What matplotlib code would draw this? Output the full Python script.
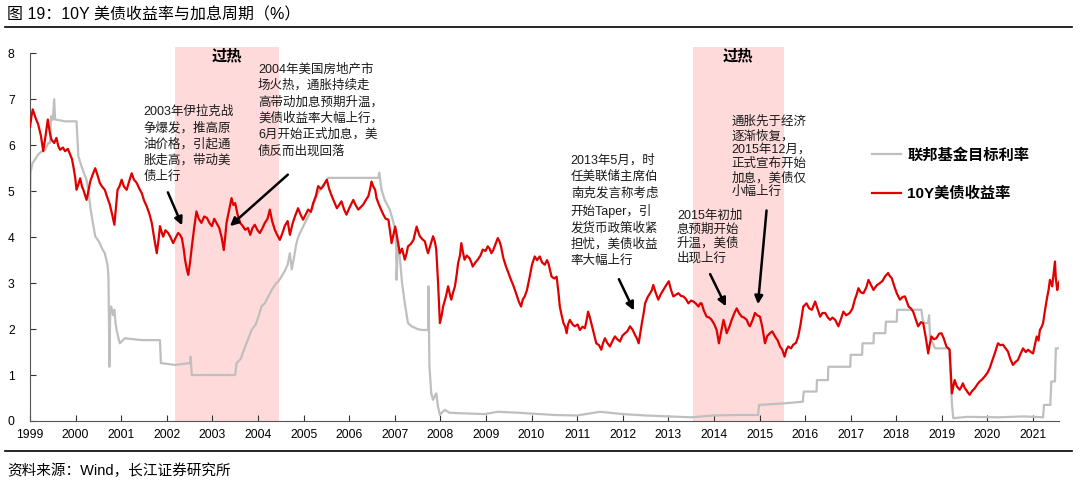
import matplotlib
matplotlib.use("Agg")
import matplotlib.pyplot as plt
from matplotlib.lines import Line2D

plt.rcParams['font.family'] = ['Liberation Sans', 'Noto Sans CJK SC', 'DejaVu Sans']

# 10Y yield (red)
red_x = [1999.00, 1999.03, 1999.06, 1999.12, 1999.18, 1999.24, 1999.29, 1999.34, 1999.39, 1999.43,
         1999.47, 1999.53, 1999.58, 1999.62, 1999.66, 1999.72, 1999.77, 1999.83, 1999.88, 1999.92,
         1999.95, 1999.99, 2000.02, 2000.06, 2000.10, 2000.14, 2000.17, 2000.21, 2000.24, 2000.28,
         2000.32, 2000.37, 2000.43, 2000.48, 2000.53, 2000.58, 2000.64, 2000.70, 2000.75, 2000.80,
         2000.85, 2000.88, 2000.92, 2000.96, 2001.01, 2001.06, 2001.12, 2001.17, 2001.23, 2001.28,
         2001.34, 2001.40, 2001.45, 2001.50, 2001.56, 2001.62, 2001.67, 2001.72, 2001.78, 2001.82,
         2001.85, 2001.89, 2001.92, 2001.97, 2002.03, 2002.08, 2002.14, 2002.20, 2002.25, 2002.29,
         2002.33, 2002.37, 2002.40, 2002.44, 2002.47, 2002.51, 2002.55, 2002.60, 2002.65, 2002.70,
         2002.76, 2002.82, 2002.88, 2002.94, 2002.99, 2003.04, 2003.09, 2003.15, 2003.20, 2003.25,
         2003.28, 2003.31, 2003.37, 2003.42, 2003.46, 2003.50, 2003.55, 2003.61, 2003.66, 2003.72,
         2003.78, 2003.83, 2003.88, 2003.93, 2003.99, 2004.04, 2004.10, 2004.15, 2004.21, 2004.26,
         2004.31, 2004.37, 2004.42, 2004.48, 2004.54, 2004.59, 2004.65, 2004.70, 2004.76, 2004.81,
         2004.88, 2004.93, 2004.99, 2005.05, 2005.10, 2005.16, 2005.21, 2005.27, 2005.32, 2005.38,
         2005.43, 2005.51, 2005.56, 2005.62, 2005.68, 2005.73, 2005.78, 2005.83, 2005.89, 2005.94,
         2006.01, 2006.09, 2006.14, 2006.20, 2006.25, 2006.31, 2006.36, 2006.42, 2006.46, 2006.49,
         2006.53, 2006.57, 2006.60, 2006.64, 2006.70, 2006.75, 2006.80, 2006.86, 2006.90, 2006.93,
         2006.97, 2007.01, 2007.06, 2007.11, 2007.16, 2007.22, 2007.26, 2007.29, 2007.35, 2007.41,
         2007.45, 2007.48, 2007.52, 2007.55, 2007.61, 2007.66, 2007.70, 2007.73, 2007.79, 2007.84,
         2007.88, 2007.91, 2007.95, 2007.99, 2008.03, 2008.06, 2008.12, 2008.17, 2008.21, 2008.24,
         2008.28, 2008.32, 2008.36, 2008.39, 2008.43, 2008.46, 2008.50, 2008.53, 2008.58, 2008.64,
         2008.68, 2008.71, 2008.77, 2008.82, 2008.88, 2008.93, 2008.99, 2009.04, 2009.08, 2009.12,
         2009.16, 2009.19, 2009.23, 2009.26, 2009.30, 2009.33, 2009.38, 2009.44, 2009.50, 2009.55,
         2009.60, 2009.66, 2009.72, 2009.77, 2009.81, 2009.85, 2009.90, 2009.96, 2010.01, 2010.07,
         2010.12, 2010.18, 2010.23, 2010.29, 2010.34, 2010.37, 2010.44, 2010.50, 2010.55, 2010.59,
         2010.62, 2010.66, 2010.70, 2010.74, 2010.77, 2010.80, 2010.84, 2010.90, 2010.95, 2011.01,
         2011.06, 2011.12, 2011.17, 2011.21, 2011.24, 2011.28, 2011.31, 2011.37, 2011.42, 2011.48,
         2011.53, 2011.57, 2011.61, 2011.66, 2011.72, 2011.78, 2011.83, 2011.88, 2011.94, 2011.99,
         2012.05, 2012.10, 2012.16, 2012.22, 2012.27, 2012.31, 2012.35, 2012.39, 2012.42, 2012.46,
         2012.49, 2012.55, 2012.60, 2012.64, 2012.67, 2012.72, 2012.78, 2012.83, 2012.89, 2012.95,
         2013.01, 2013.06, 2013.11, 2013.17, 2013.22, 2013.28, 2013.33, 2013.39, 2013.44, 2013.50,
         2013.55, 2013.61, 2013.66, 2013.70, 2013.73, 2013.78, 2013.84, 2013.90, 2013.95, 2014.01,
         2014.06, 2014.11, 2014.16, 2014.21, 2014.25, 2014.28, 2014.34, 2014.39, 2014.45, 2014.50,
         2014.55, 2014.61, 2014.66, 2014.72, 2014.76, 2014.79, 2014.85, 2014.90, 2014.95, 2015.01,
         2015.06, 2015.12, 2015.17, 2015.23, 2015.28, 2015.34, 2015.40, 2015.45, 2015.50, 2015.55,
         2015.59, 2015.63, 2015.69, 2015.74, 2015.80, 2015.85, 2015.90, 2015.96, 2016.03, 2016.09,
         2016.15, 2016.22, 2016.27, 2016.33, 2016.38, 2016.44, 2016.50, 2016.55, 2016.60, 2016.66,
         2016.73, 2016.78, 2016.84, 2016.90, 2016.98, 2017.04, 2017.09, 2017.13, 2017.17, 2017.22,
         2017.28, 2017.34, 2017.39, 2017.45, 2017.50, 2017.57, 2017.64, 2017.70, 2017.75, 2017.82,
         2017.86, 2017.90, 2017.95, 2018.01, 2018.05, 2018.08, 2018.14, 2018.19, 2018.23, 2018.27,
         2018.32, 2018.37, 2018.43, 2018.48, 2018.54, 2018.59, 2018.65, 2018.70, 2018.73, 2018.77,
         2018.82, 2018.88, 2018.94, 2018.99, 2019.04, 2019.10, 2019.17, 2019.20, 2019.22, 2019.25,
         2019.28, 2019.33, 2019.39, 2019.43, 2019.46, 2019.50, 2019.53, 2019.57, 2019.61, 2019.66,
         2019.72, 2019.78, 2019.83, 2019.88, 2019.94, 2020.00, 2020.05, 2020.10, 2020.16, 2020.20,
         2020.23, 2020.28, 2020.34, 2020.40, 2020.45, 2020.50, 2020.56, 2020.61, 2020.67, 2020.72,
         2020.78, 2020.84, 2020.89, 2020.95, 2021.00, 2021.04, 2021.08, 2021.12, 2021.15, 2021.19,
         2021.22, 2021.26, 2021.30, 2021.34, 2021.37, 2021.40, 2021.42, 2021.45, 2021.48, 2021.50,
         2021.53, 2021.56, 2021.58]
red_y = [6.40, 6.62, 6.78, 6.60, 6.45, 6.20, 5.87, 6.20, 6.56, 6.30,
         6.12, 6.05, 6.16, 5.98, 5.90, 5.95, 5.87, 5.92, 5.80, 5.70,
         5.54, 5.30, 5.03, 5.15, 5.28, 5.10, 5.03, 4.90, 4.81, 5.00,
         5.21, 5.35, 5.50, 5.35, 5.18, 5.10, 5.03, 4.85, 4.71, 4.50,
         4.27, 4.60, 5.03, 5.10, 5.25, 5.10, 5.03, 5.20, 5.39, 5.25,
         5.18, 5.05, 4.96, 4.80, 4.67, 4.50, 4.31, 4.00, 3.65, 3.95,
         4.24, 4.10, 4.01, 4.15, 4.09, 4.00, 3.87, 4.00, 4.09, 4.05,
         3.98, 3.75, 3.51, 3.30, 3.18, 3.45, 3.80, 4.20, 4.56, 4.40,
         4.31, 4.45, 4.42, 4.30, 4.24, 4.40, 4.31, 4.20, 4.01, 3.72,
         4.00, 4.31, 4.60, 4.85, 4.70, 4.74, 4.50, 4.31, 4.25, 4.16,
         4.20, 4.05, 4.20, 4.27, 4.15, 4.09, 4.20, 4.31, 4.40, 4.60,
         4.35, 4.16, 4.05, 3.94, 4.10, 4.25, 4.35, 4.05, 4.30, 4.45,
         4.63, 4.50, 4.38, 4.50, 4.60, 4.55, 4.74, 4.90, 5.11, 5.05,
         5.11, 5.25, 5.05, 4.89, 4.75, 4.63, 4.70, 4.78, 4.60, 4.49,
         4.65, 4.81, 4.70, 4.60, 4.65, 4.71, 4.80, 4.89, 5.05, 5.21,
         5.10, 5.03, 4.85, 4.74, 4.60, 4.49, 4.40, 4.38, 4.10, 3.87,
         4.05, 4.23, 3.95, 3.65, 3.75, 3.51, 3.65, 3.80, 3.85, 3.94,
         4.10, 4.23, 4.10, 4.02, 3.95, 3.91, 3.75, 3.65, 3.85, 4.02,
         3.90, 3.73, 3.00, 2.13, 2.30, 2.49, 2.70, 2.93, 2.75, 2.64,
         2.80, 2.93, 3.20, 3.44, 3.60, 3.87, 3.65, 3.51, 3.60, 3.54,
         3.45, 3.36, 3.45, 3.51, 3.60, 3.73, 3.70, 3.80, 3.75, 3.65,
         3.72, 3.80, 3.90, 3.98, 3.90, 3.80, 3.55, 3.36, 3.20, 3.07,
         2.95, 2.78, 2.60, 2.49, 2.65, 2.71, 2.85, 3.14, 3.40, 3.58,
         3.50, 3.58, 3.45, 3.40, 3.50, 3.43, 3.14, 3.10, 3.14, 2.80,
         2.49, 2.30, 2.13, 2.05, 1.91, 2.10, 2.20, 2.10, 2.06, 2.10,
         1.98, 2.05, 2.02, 2.20, 2.38, 2.25, 2.13, 1.90, 1.69, 1.65,
         1.55, 1.70, 1.80, 1.70, 1.62, 1.75, 1.84, 1.78, 1.73, 1.85,
         1.91, 1.95, 2.06, 1.98, 1.87, 1.80, 1.69, 1.95, 2.13, 2.35,
         2.56, 2.70, 2.78, 2.85, 2.96, 2.80, 2.64, 2.75, 2.85, 2.95,
         3.04, 2.85, 2.71, 2.75, 2.78, 2.72, 2.71, 2.65, 2.56, 2.62,
         2.60, 2.55, 2.49, 2.56, 2.56, 2.40, 2.27, 2.25, 2.20, 2.10,
         1.98, 1.69, 1.95, 2.20, 2.05, 1.91, 2.05, 2.20, 2.35, 2.45,
         2.35, 2.27, 2.25, 2.20, 2.10, 2.06, 2.20, 2.35, 2.30, 2.27,
         2.05, 1.69, 1.85, 1.91, 1.95, 1.84, 1.75, 1.62, 1.55, 1.40,
         1.55, 1.62, 1.58, 1.66, 1.70, 1.84, 2.10, 2.49, 2.56, 2.45,
         2.42, 2.60, 2.45, 2.27, 2.35, 2.35, 2.25, 2.20, 2.25, 2.20,
         2.06, 2.20, 2.38, 2.30, 2.35, 2.45, 2.64, 2.75, 2.89, 2.80,
         2.78, 2.90, 3.07, 2.95, 2.85, 2.95, 3.00, 3.05, 3.14, 3.22,
         3.15, 3.11, 2.95, 2.78, 2.70, 2.64, 2.70, 2.71, 2.60, 2.49,
         2.45, 2.38, 2.20, 2.06, 2.15, 2.13, 1.80, 1.47, 1.65, 1.84,
         1.78, 1.80, 1.90, 1.91, 1.80, 1.62, 1.55, 1.00, 0.60, 0.75,
         0.89, 0.75, 0.68, 0.75, 0.82, 0.72, 0.68, 0.62, 0.57, 0.65,
         0.71, 0.80, 0.86, 0.90, 0.97, 1.05, 1.15, 1.30, 1.47, 1.60,
         1.69, 1.65, 1.66, 1.58, 1.51, 1.35, 1.22, 1.28, 1.33, 1.45,
         1.58, 1.50, 1.55, 1.50, 1.47, 1.65, 1.84, 1.75, 1.98, 2.05,
         2.13, 2.40, 2.64, 2.85, 3.07, 3.00, 2.93, 3.20, 3.47, 3.10,
         2.85, 3.00, 3.04]

# Fed funds target rate (grey)
grey_x = [1999.00, 1999.01, 1999.05, 1999.11, 1999.18, 1999.26, 1999.33, 1999.40, 1999.44, 1999.46,
          1999.50, 1999.53, 1999.55, 1999.77, 2000.02, 2000.06, 2000.13, 2000.18, 2000.24, 2000.28,
          2000.32, 2000.38, 2000.43, 2000.48, 2000.53, 2000.58, 2000.64, 2000.70, 2000.72, 2000.73,
          2000.74, 2000.76, 2000.78, 2000.82, 2000.85, 2000.88, 2000.90, 2000.94, 2000.97, 2001.08,
          2001.45, 2001.85, 2001.87, 2002.18, 2002.51, 2002.52, 2002.55, 2003.50, 2003.53, 2003.62,
          2003.72, 2003.86, 2003.95, 2004.01, 2004.08, 2004.15, 2004.30, 2004.40, 2004.45, 2004.52,
          2004.59, 2004.65, 2004.70, 2004.74, 2004.78, 2004.84, 2004.88, 2004.95, 2005.03, 2005.10,
          2005.18, 2005.25, 2005.32, 2005.40, 2005.47, 2005.54, 2006.64, 2006.66, 2006.71, 2006.78,
          2006.89, 2006.95, 2007.01, 2007.03, 2007.04, 2007.07, 2007.11, 2007.16, 2007.22, 2007.29,
          2007.37, 2007.50, 2007.60, 2007.73, 2007.74, 2007.76, 2007.80, 2007.84, 2007.88, 2007.91,
          2007.95, 2007.99, 2008.05, 2008.10, 2008.20, 2008.39, 2008.97, 2009.26, 2009.70, 2010.51,
          2011.00, 2011.50, 2012.00, 2012.50, 2013.00, 2013.50, 2014.00, 2014.50, 2014.97, 2014.99,
          2015.50, 2015.95, 2015.97, 2016.25, 2016.26, 2016.50, 2016.51, 2016.99, 2017.00, 2017.25,
          2017.26, 2017.50, 2017.51, 2017.76, 2017.77, 2018.01, 2018.02, 2018.55, 2018.58, 2018.62,
          2018.70, 2018.72, 2018.74, 2018.80, 2018.85, 2019.16, 2019.20, 2019.22, 2019.25, 2019.55,
          2020.25, 2020.80, 2021.22, 2021.24, 2021.38, 2021.40, 2021.48, 2021.50, 2021.58]
grey_y = [4.00, 5.40, 5.60, 5.69, 5.80, 5.87, 5.90, 6.05, 6.05, 6.63,
          6.55, 7.00, 6.56, 6.52, 6.52, 5.76, 5.54, 5.40, 5.25, 5.00,
          4.67, 4.30, 4.02, 3.95, 3.87, 3.75, 3.65, 3.40, 3.14, 2.30,
          1.18, 2.40, 2.49, 2.30, 2.42, 2.10, 1.98, 1.80, 1.69, 1.80,
          1.76, 1.76, 1.26, 1.22, 1.26, 1.40, 1.00, 1.00, 1.26, 1.35,
          1.62, 1.98, 2.10, 2.27, 2.50, 2.56, 2.85, 3.00, 3.04, 3.15,
          3.27, 3.40, 3.65, 3.30, 3.50, 3.85, 4.00, 4.15, 4.31, 4.45,
          4.60, 4.80, 4.96, 5.10, 5.18, 5.29, 5.29, 5.40, 5.03, 4.81,
          4.60, 4.40, 4.16, 3.80, 3.07, 3.90, 3.58, 3.00, 2.56, 2.13,
          2.06, 2.00, 1.98, 1.98, 2.93, 1.20, 0.60, 0.46, 0.55, 0.60,
          0.30, 0.13, 0.20, 0.24, 0.18, 0.17, 0.15, 0.20, 0.18, 0.13,
          0.12, 0.20, 0.15, 0.12, 0.10, 0.08, 0.12, 0.13, 0.13, 0.35,
          0.38, 0.42, 0.64, 0.64, 0.89, 0.89, 1.18, 1.18, 1.44, 1.44,
          1.69, 1.69, 1.91, 1.91, 2.16, 2.16, 2.42, 2.42, 2.20, 2.13,
          2.13, 2.30, 1.84, 1.70, 1.58, 1.58, 0.80, 0.38, 0.06, 0.09,
          0.08, 0.10, 0.08, 0.35, 0.35, 0.86, 0.86, 1.58, 1.58]

years = list(range(1999, 2022))
hot_periods = [(2002.18, 2004.45), (2013.54, 2015.53)]

notes = [
    "2003年伊拉克战\n争爆发，推高原\n油价格，引起通\n胀走高，带动美\n债上行",
    "2004年美国房地产市\n场火热，通胀持续走\n高带动加息预期升温，\n美债收益率大幅上行，\n6月开始正式加息，美\n债反而出现回落",
    "2013年5月，时\n任美联储主席伯\n南克发言称考虑\n开始Taper，引\n发货币政策收紧\n担忧，美债收益\n率大幅上行",
    "2015年初加\n息预期开始\n升温，美债\n出现上行",
    "通胀先于经济\n逐渐恢复，\n2015年12月，\n正式宣布开始\n加息，美债仅\n小幅上行",
]
note_text_xy = [(2001.48, 6.86), (2004.0, 7.78), (2010.86, 5.80), (2013.19, 4.60), (2014.39, 6.64)]
note_tail_xy = [(2002.0, 5.03), (2004.70, 5.40), (2011.89, 3.14), (2013.89, 3.25), (2015.16, 4.64)]
note_head_xy = [(2002.36, 4.20), (2003.34, 4.20), (2012.27, 2.35), (2014.29, 2.44), (2014.96, 2.48)]
note_spacing = [1.42, 1.42, 1.42, 1.2, 1.2]

fig = plt.figure(figsize=(10.8, 4.91), dpi=100)
ax = fig.add_axes([0.0278, 0.1426, 0.9528, 0.7488])

for a, b in hot_periods:
    ax.axvspan(a, b, ymin=0, ymax=1.018, color='#FFDADA', lw=0, clip_on=False, zorder=0)
    ax.text((a + b) / 2, 7.94, "过热", ha='center', va='center', fontsize=11, fontweight='bold')

ax.plot(grey_x, grey_y, color='#BFBFBF', lw=1.6, label='联邦基金目标利率', zorder=2)
ax.plot(red_x, red_y, color='#E00000', lw=1.6, label='10Y美债收益率', zorder=3)

for txt, pos, tail, head, ls in zip(notes, note_text_xy, note_tail_xy, note_head_xy, note_spacing):
    ax.text(pos[0], pos[1], txt, ha='left', va='top', fontsize=9, linespacing=ls, color='#1a1a1a')
    ax.annotate("", xy=head, xytext=tail,
                arrowprops=dict(arrowstyle='-|>', color='black', lw=1.8, mutation_scale=12))

ax.set_xlim(1999, 2021.57)
ax.set_ylim(0, 8)
ax.set_xticks(years)
ax.set_xticklabels([str(y) for y in years])
ax.set_yticks(range(0, 9))
ax.tick_params(direction='in', length=4, labelsize=8.7, width=0.8, colors='#333333', labelcolor='black')
ax.tick_params(axis='x', pad=6)
ax.tick_params(axis='y', pad=11)
for s in ['top', 'right']:
    ax.spines[s].set_visible(False)
for s in ['left', 'bottom']:
    ax.spines[s].set_color('#555555')
    ax.spines[s].set_linewidth(0.8)

leg = ax.legend(loc='upper left', bbox_to_anchor=(872 / 1080, 1 - 148 / 491),
                bbox_transform=fig.transFigure, frameon=False, borderpad=0, borderaxespad=0,
                handlelength=1.9, handletextpad=0.4, labelspacing=1.55,
                prop={'size': 11, 'weight': 'bold'})

# title, source and the two rules
fig.text(7 / 1080, 1 - 15 / 491, "图 19：10Y 美债收益率与加息周期（%）", ha='left', va='center', fontsize=11.5)
fig.text(7 / 1080, 1 - 471 / 491, "资料来源：Wind，长江证券研究所", ha='left', va='center', fontsize=10.5)
fig.add_artist(Line2D([5 / 1080, 1072 / 1080], [1 - 27 / 491, 1 - 27 / 491], color='black', lw=1.2))
fig.add_artist(Line2D([5 / 1080, 1072 / 1080], [1 - 451 / 491, 1 - 451 / 491], color='black', lw=1.2))

fig.savefig("out.png", dpi=100)
